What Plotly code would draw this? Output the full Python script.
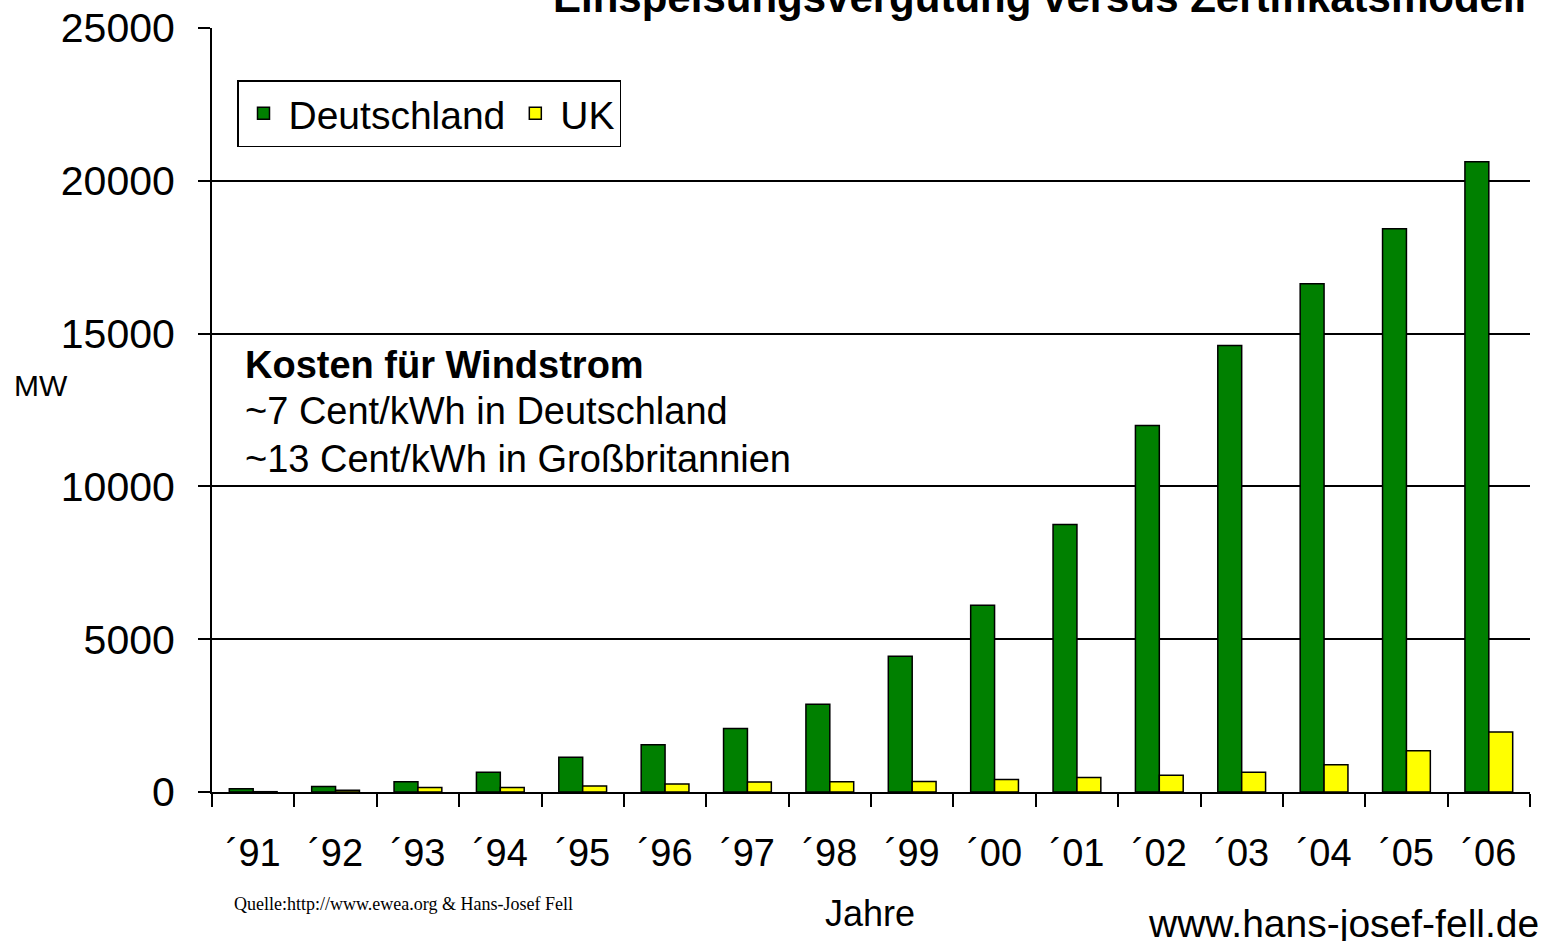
import plotly.graph_objects as go

years = ["´91", "´92", "´93", "´94", "´95", "´96", "´97", "´98",
         "´99", "´00", "´01", "´02", "´03", "´04", "´05", "´06"]
deutschland = [106, 183, 334, 643, 1136, 1545, 2081, 2875,
               4442, 6113, 8754, 11994, 14609, 16629, 18428, 20622]
uk = [10, 60, 145, 146, 200, 264, 330, 333,
      340, 406, 474, 552, 649, 888, 1353, 1963]
y_ticks = [0, 5000, 10000, 15000, 20000, 25000]
y_labels = ["0", "5000", "10000", "15000", "20000", "25000"]

FONT = "Liberation Sans, Arial, sans-serif"
W, H = 1545, 941
ML, MR, MT, MB = 212, 15, 28, 149
PH = H - MT - MB


def py(pix):
    return (H - MB - pix) / PH


def px(pix):
    return (pix - ML) / (W - ML - MR)


fig = go.Figure()
fig.add_trace(go.Bar(x=years, y=deutschland, name="Deutschland",
                     marker=dict(color="#008000", line=dict(color="black", width=1.5))))
fig.add_trace(go.Bar(x=years, y=uk, name="UK",
                     marker=dict(color="#FFFF00", line=dict(color="black", width=1.5))))

fig.update_layout(
    width=W, height=H,
    margin=dict(l=ML, r=MR, t=MT, b=MB, autoexpand=False),
    paper_bgcolor="white", plot_bgcolor="white",
    font=dict(family=FONT, color="black", size=38),
    barmode="group", bargap=0.42, bargroupgap=0,
    showlegend=True,
    legend=dict(orientation="h", x=px(237), y=py(80), xanchor="left", yanchor="top",
                bgcolor="white", bordercolor="black", borderwidth=1.5,
                font=dict(size=39, family=FONT), itemwidth=40, tracegroupgap=0),
    xaxis=dict(type="category", tickson="boundaries", ticks="outside", ticklen=13,
               tickwidth=1.5, tickcolor="black", showline=True, linecolor="black",
               linewidth=2, showgrid=False, tickfont=dict(size=38),
               ticklabelstandoff=26),
    yaxis=dict(range=[0, 25000], tickvals=y_ticks, ticktext=y_labels, ticks="outside",
               ticklen=12, tickwidth=1.5, tickcolor="black", showline=True,
               linecolor="black", linewidth=2, showgrid=True, gridcolor="black",
               gridwidth=1.5, zeroline=False, tickfont=dict(size=41),
               ticklabelstandoff=15),
)

ann = [
    dict(text="<b>Einspeisungsvergütung versus Zertifikatsmodell</b>", x=px(1528), y=py(23),
         xanchor="right", yanchor="bottom", font=dict(size=42)),
    dict(text="<b>Kosten für Windstrom</b>", x=px(243), y=py(365), xanchor="left",
         yanchor="middle", font=dict(size=38)),
    dict(text="~7 Cent/kWh in Deutschland", x=px(243), y=py(411), xanchor="left",
         yanchor="middle", font=dict(size=38)),
    dict(text="~13 Cent/kWh in Großbritannien", x=px(243), y=py(459), xanchor="left",
         yanchor="middle", font=dict(size=38)),
    dict(text="MW", x=px(12), y=py(385), xanchor="left", yanchor="middle",
         font=dict(size=30)),
    dict(text="Jahre", x=px(870), y=py(914), xanchor="center", yanchor="middle",
         font=dict(size=36)),
    dict(text="www.hans-josef-fell.de", x=px(1541), y=py(923), xanchor="right",
         yanchor="middle", font=dict(size=39)),
    dict(text="Quelle:http://www.ewea.org & Hans-Josef Fell", x=px(232), y=py(904),
         xanchor="left", yanchor="middle",
         font=dict(size=18, family="Liberation Serif, Times New Roman, serif")),
]
for a in ann:
    a.update(xref="paper", yref="paper", showarrow=False)
fig.update_layout(annotations=ann)

fig.write_html("out.html", config={"displayModeBar": False},
               post_script="document.body.style.margin='0';document.body.style.overflow='hidden';")
